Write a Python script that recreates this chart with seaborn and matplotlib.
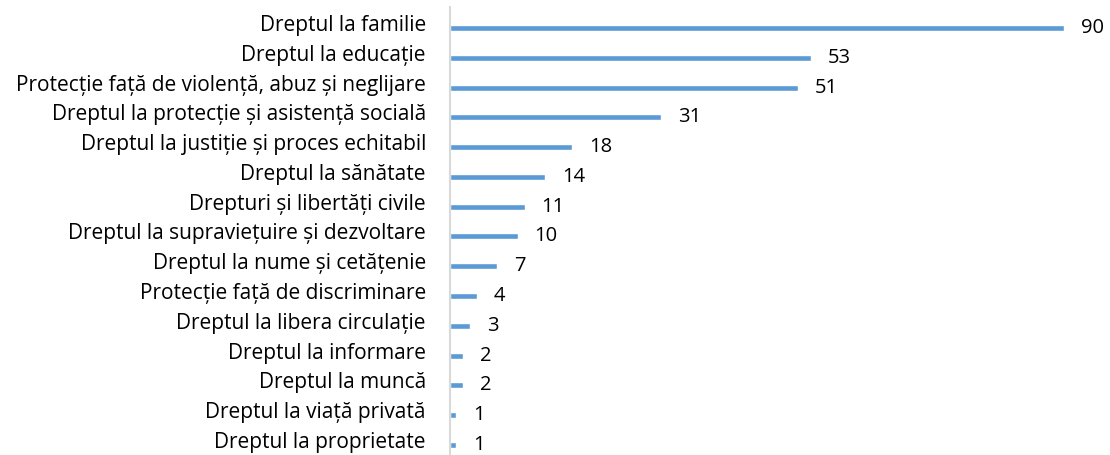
import matplotlib
matplotlib.use("Agg")
import matplotlib.pyplot as plt
import matplotlib.transforms as mtransforms
import seaborn as sns
import pandas as pd

categories = [
    "Dreptul la familie",
    "Dreptul la educație",
    "Protecție față de violență, abuz și neglijare",
    "Dreptul la protecție și asistență socială",
    "Dreptul la justiție și proces echitabil",
    "Dreptul la sănătate",
    "Drepturi și libertăți civile",
    "Dreptul la supraviețuire și dezvoltare",
    "Dreptul la nume și cetățenie",
    "Protecție față de discriminare",
    "Dreptul la libera circulație",
    "Dreptul la informare",
    "Dreptul la muncă",
    "Dreptul la viață privată",
    "Dreptul la proprietate",
]
values = [90, 53, 51, 31, 18, 14, 11, 10, 7, 4, 3, 2, 2, 1, 1]

df = pd.DataFrame({"cat": categories, "val": values})

sns.set_theme(style="white")
plt.rcParams["font.family"] = ["Open Sans", "DejaVu Sans"]

W, H = 1110, 455
fig = plt.figure(figsize=(W / 100, H / 100), dpi=100)
left_px, top_px, bottom_px = 449.5, 7, 455
px_per_unit = (1064 - 449.5) / 90
xmax = 96
ax = fig.add_axes([left_px / W, 1 - bottom_px / H, xmax * px_per_unit / W, (bottom_px - top_px) / H])

sns.barplot(data=df, x="val", y="cat", color="#5B9BD5", width=0.2, ax=ax,
            saturation=1, orient="h")

ax.set_xlim(0, xmax)
ax.set_ylim(14.34, -0.705)
ax.set_xlabel("")
ax.set_ylabel("")
ax.set_xticks([])
for s in ["top", "right", "bottom"]:
    ax.spines[s].set_visible(False)
ax.spines["left"].set_color("#D9D9D9")
ax.spines["left"].set_linewidth(1.5)
ax.tick_params(axis="y", length=0, pad=17, labelsize=15, labelcolor="black")

offset = mtransforms.ScaledTranslation(0, 5 / 100, fig.dpi_scale_trans)
for lab in ax.get_yticklabels():
    lab.set_transform(lab.get_transform() + offset)

for cont in ax.containers:
    ax.bar_label(cont, padding=12, fontsize=14.5, color="black")

fig.savefig("out.png", dpi=100)
